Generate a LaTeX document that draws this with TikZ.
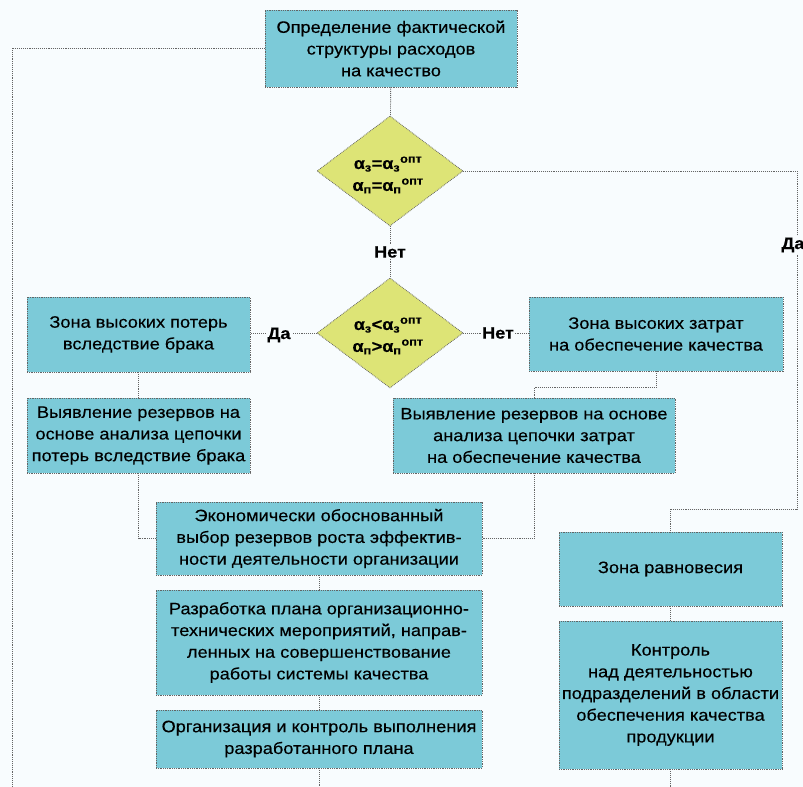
\documentclass[tikz,border=0pt]{standalone}
\usepackage{fontspec}
\setmainfont[FakeStretch=1.1,FakeBold=0.3]{Liberation Sans}
\usetikzlibrary{shapes.geometric}
\definecolor{bg}{RGB}{248,252,254}
\definecolor{boxfill}{RGB}{124,202,216}
\definecolor{diafill}{RGB}{221,228,118}
\definecolor{linec}{RGB}{100,100,100}
\begin{document}
\begin{tikzpicture}[x=1bp,y=-1bp,
  box/.style={draw=linec, densely dotted, line width=0.8bp, fill=boxfill, align=center,
    inner sep=0pt, font=\fontsize{16.6}{21.8}\selectfont},
  dia/.style={diamond, draw=linec, densely dotted, line width=0.8bp, fill=diafill,
    inner sep=0pt, minimum width=146bp, minimum height=110bp},
  dtext/.style={align=center, inner sep=0pt, font=\bfseries\fontsize{16.5}{22}\selectfont},
  conn/.style={draw=linec, line width=0.9bp, densely dotted},
  lab/.style={fill=bg, inner sep=1.5bp, font=\bfseries\fontsize{16.5}{20}\selectfont}]
\useasboundingbox[fill=bg] (0,0) rectangle (803,787);

% boxes
\node[box, minimum width=252bp, minimum height=77bp] (top) at (391,48.5)
  {Определение фактической\\структуры расходов\\на качество};
\node[box, minimum width=223bp, minimum height=75bp] (zl) at (138.5,334.5)
  {Зона высоких потерь\\вследствие брака};
\node[box, minimum width=254bp, minimum height=74bp] (zr) at (656,334)
  {Зона высоких затрат\\на обеспечение качества};
\node[box, minimum width=223bp, minimum height=75bp] (vl) at (138.5,435.5)
  {Выявление резервов на\\основе анализа цепочки\\потерь вследствие брака};
\node[box, minimum width=282bp, minimum height=75bp] (vr) at (534,435.5)
  {Выявление резервов на основе\\анализа цепочки затрат\\на обеспечение качества};
\node[box, minimum width=326bp, minimum height=73bp] (ek) at (319,538.5)
  {Экономически обоснованный\\выбор резервов роста эффектив-\\ности деятельности организации};
\node[box, minimum width=326bp, minimum height=105bp] (rz) at (319,642.5)
  {Разработка плана организационно-\\технических мероприятий, направ-\\ленных на совершенствование\\работы системы качества};
\node[box, minimum width=326bp, minimum height=58bp] (org) at (319,739)
  {Организация и контроль выполнения\\разработанного плана};
\node[box, minimum width=223bp, minimum height=74bp] (zrv) at (670.5,569)
  {Зона равновесия};
\node[box, minimum width=223bp, minimum height=148bp] (ktr) at (670.5,695)
  {Контроль\\над деятельностью\\подразделений в области\\обеспечения качества\\продукции};

% diamonds
\node[dia] (d1) at (390,171) {};
\node[dtext] (t1) at (388,175)
  {α\textsubscript{з}=α\textsubscript{з}\textsuperscript{опт}\\α\textsubscript{п}=α\textsubscript{п}\textsuperscript{опт}};
\node[dia] (d2) at (390,333) {};
\node[dtext] (t2) at (388,336)
  {α\textsubscript{з}<α\textsubscript{з}\textsuperscript{опт}\\α\textsubscript{п}>α\textsubscript{п}\textsuperscript{опт}};

% free ends
\coordinate (lb) at (12,787);
\coordinate (rt) at (797,171);
\coordinate (rb) at (797,509);
\coordinate (orgend) at (319,787);
\coordinate (ktrend) at (670.5,787);

% connectors
\draw[conn] (top) -- (d1);
\draw[conn] (top.west) -| (lb);
\draw[conn] (d1.east) -- (rt) -- (rb) -| (zrv.north);
\draw[conn] (d1) -- (d2);
\draw[conn] (d2.west) -- (zl.east |- d2.west);
\draw[conn] (d2.east) -- (zr.west |- d2.east);
\draw[conn] (zl) -- (vl);
\draw[conn] (zr.south) -- ++(0,16) -| (vr.north);
\draw[conn] (vl.south) |- (ek.west);
\draw[conn] (vr.south) |- (ek.east);
\draw[conn] (ek) -- (rz);
\draw[conn] (rz) -- (org);
\draw[conn] (org.south) -- (orgend);
\draw[conn] (zrv) -- (ktr);
\draw[conn] (ktr.south) -- (ktrend);

% labels
\node[lab] (l1) at (390,252) {Нет};
\node[lab] (l2) at (279,335) {Да};
\node[lab] (l3) at (498,333) {Нет};
\node[lab] (l4) at (793,245) {Да};
\end{tikzpicture}
\end{document}
